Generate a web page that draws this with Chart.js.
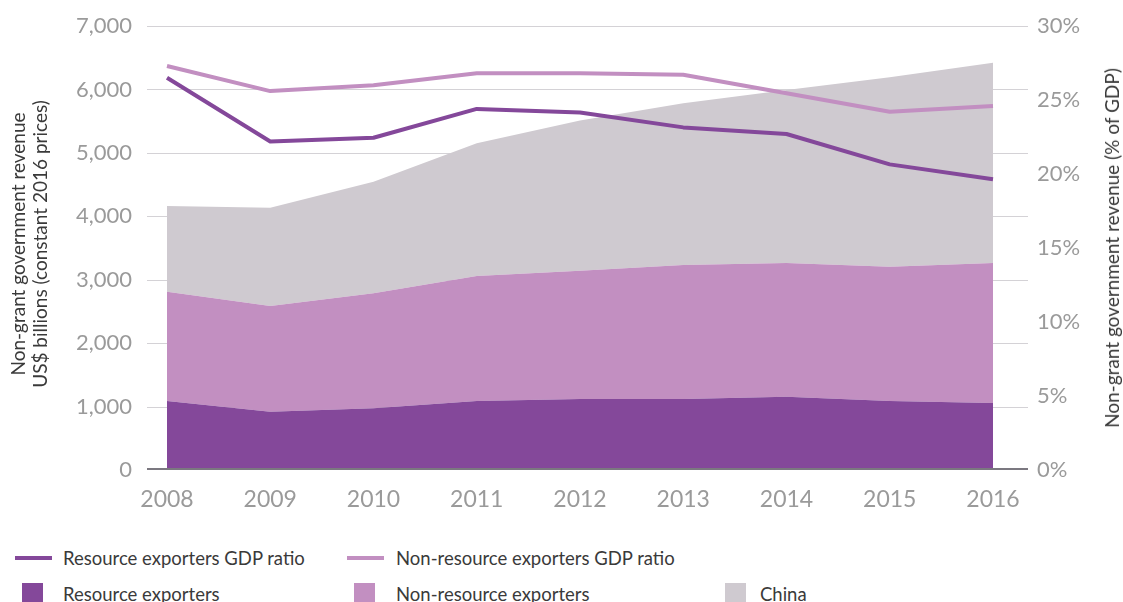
<!DOCTYPE html>
<html>
<head>
<meta charset="utf-8">
<script src="https://cdn.jsdelivr.net/npm/chart.js@4.4.1/dist/chart.umd.min.js"></script>
<style>
html,body{margin:0;padding:0;background:#fff;}
body{width:1123px;height:602px;position:relative;overflow:hidden;font-family:Lato,"Open Sans",sans-serif;}
#wrap{position:absolute;left:0;top:0;width:1123px;height:520px;}
.rot{position:absolute;white-space:nowrap;color:#3a3a3a;font-size:19px;line-height:22px;transform:translate(-50%,-50%) rotate(-90deg);}
.lg{position:absolute;white-space:nowrap;color:#3a3a3a;font-size:18.5px;line-height:24px;}
.sw{position:absolute;}
</style>
</head>
<body>
<div id="wrap"><canvas id="c" width="1123" height="520" style="width:1123px;height:520px"></canvas></div>
<div class="rot" id="lt1" style="left:18px;top:244px;"></div>
<div class="rot" id="lt2" style="left:40px;top:244px;"></div>
<div class="rot" id="rt" style="left:1112px;top:248px;"></div>
<div id="legend"></div>
<script>
// ---- data ----
const years = ['2008','2009','2010','2011','2012','2013','2014','2015','2016'];
const resourceExporters    = [1088, 920, 972, 1088, 1120, 1120, 1156, 1088, 1056];
const nonResourceExporters = [1723, 1665, 1813, 1970, 2022, 2112, 2107, 2117, 2207];
const china                = [1351, 1550, 1760, 2092, 2368, 2549, 2728, 2986, 3159];
const resourceGdpRatio     = [26.5, 22.2, 22.45, 24.4, 24.15, 23.15, 22.7, 20.65, 19.65];
const nonResourceGdpRatio  = [27.3, 25.6, 26.0, 26.8, 26.8, 26.7, 25.45, 24.2, 24.6];
const leftTickLabels  = ['0','1,000','2,000','3,000','4,000','5,000','6,000','7,000'];
const rightTickLabels = ['0%','5%','10%','15%','20%','25%','30%'];
const leftTitle  = ['Non-grant government revenue', 'US$ billions (constant 2016 prices)'];
const rightTitle = 'Non-grant government revenue (% of GDP)';
const seriesNames = ['Resource exporters GDP ratio','Non-resource exporters GDP ratio','Resource exporters','Non-resource exporters','China'];

// ---- styles ----
const DARK = '#84489a', LIGHT = '#c28fc1', GREY = '#cfcad0';
const TICK = '#9a9a9a';

document.getElementById('lt1').textContent = leftTitle[0];
document.getElementById('lt2').textContent = leftTitle[1];
document.getElementById('rt').textContent = rightTitle;

const legendItems = [
  {name: seriesNames[0], kind:'line', color: DARK,  sx:15,  tx:63,  cy:558},
  {name: seriesNames[1], kind:'line', color: LIGHT, sx:347, tx:396, cy:558},
  {name: seriesNames[2], kind:'box',  color: DARK,  sx:22,  tx:63,  cy:594},
  {name: seriesNames[3], kind:'box',  color: LIGHT, sx:354, tx:396, cy:594},
  {name: seriesNames[4], kind:'box',  color: GREY,  sx:725, tx:760, cy:594}
];
const lg = document.getElementById('legend');
legendItems.forEach(it => {
  const s = document.createElement('div');
  s.className = 'sw';
  s.style.background = it.color;
  if (it.kind === 'line') {
    s.style.left = it.sx + 'px'; s.style.width = '37px';
    s.style.top = (it.cy - 2) + 'px'; s.style.height = '4px';
  } else {
    s.style.left = it.sx + 'px'; s.style.width = '21px';
    s.style.top = (it.cy - 11) + 'px'; s.style.height = '21px';
  }
  lg.appendChild(s);
  const t = document.createElement('div');
  t.className = 'lg';
  t.textContent = it.name;
  t.style.left = it.tx + 'px';
  t.style.top = (it.cy - 12) + 'px';
  lg.appendChild(t);
});

const gridPlugin = {
  id: 'gridExt',
  beforeDatasetsDraw(chart) {
    const {ctx, chartArea, scales} = chart;
    const y = scales.y;
    ctx.save();
    ctx.strokeStyle = '#d4d2d6';
    ctx.lineWidth = 1.2;
    y.ticks.forEach(t => {
      if (t.value === 0) return;
      const py = Math.round(y.getPixelForValue(t.value)) + 0.5;
      ctx.beginPath();
      ctx.moveTo(chartArea.left - 20, py);
      ctx.lineTo(chartArea.right + 35, py);
      ctx.stroke();
    });
    ctx.restore();
  },
  afterDatasetsDraw(chart) {
    const {ctx, chartArea, scales} = chart;
    const py = scales.y.getPixelForValue(0);
    ctx.save();
    ctx.strokeStyle = '#7b7880';
    ctx.lineWidth = 2;
    ctx.beginPath();
    ctx.moveTo(chartArea.left - 20, py - 1);
    ctx.lineTo(chartArea.right + 35, py - 1);
    ctx.stroke();
    ctx.restore();
  }
};

Chart.defaults.font.family = 'Lato, "Open Sans", sans-serif';

new Chart(document.getElementById('c'), {
  type: 'line',
  data: {
    labels: years,
    datasets: [
      {label: seriesNames[0], data: resourceGdpRatio, yAxisID: 'y1', borderColor: DARK, borderWidth: 4, pointRadius: 0, fill: false, order: 0, borderJoinStyle: 'round'},
      {label: seriesNames[1], data: nonResourceGdpRatio, yAxisID: 'y1', borderColor: LIGHT, borderWidth: 4, pointRadius: 0, fill: false, order: 0, borderJoinStyle: 'round'},
      {label: seriesNames[2], data: resourceExporters, yAxisID: 'y', stack: 'rev', backgroundColor: DARK, borderColor: DARK, borderWidth: 0, pointRadius: 0, fill: 'origin', order: 1},
      {label: seriesNames[3], data: nonResourceExporters, yAxisID: 'y', stack: 'rev', backgroundColor: LIGHT, borderColor: LIGHT, borderWidth: 0, pointRadius: 0, fill: '-1', order: 1},
      {label: seriesNames[4], data: china, yAxisID: 'y', stack: 'rev', backgroundColor: GREY, borderColor: GREY, borderWidth: 0, pointRadius: 0, fill: '-1', order: 1}
    ]
  },
  options: {
    responsive: false,
    animation: false,
    devicePixelRatio: 1,
    layout: {padding: {top: 26, left: 0, right: 0, bottom: 0}},
    plugins: {legend: {display: false}, tooltip: {enabled: false}},
    elements: {line: {tension: 0}},
    scales: {
      x: {
        offset: false,
        grid: {display: false, drawTicks: true, tickLength: 16},
        border: {display: false},
        ticks: {color: TICK, font: {size: 23}, padding: 0, maxRotation: 0, autoSkip: false},
        afterFit(s) { s.height = 50; }
      },
      y: {
        position: 'left',
        stacked: true,
        min: 0, max: 7000,
        grid: {display: false, drawTicks: true, tickLength: 35},
        border: {display: false},
        ticks: {stepSize: 1000, color: TICK, font: {size: 22}, padding: 0,
                callback: (v, i) => leftTickLabels[i]},
        afterFit(s) { s.width = 167; }
      },
      y1: {
        position: 'right',
        stacked: false,
        min: 0, max: 30,
        grid: {display: false, drawTicks: true, tickLength: 44},
        border: {display: false},
        ticks: {stepSize: 5, color: TICK, font: {size: 22}, padding: 0,
                callback: (v, i) => rightTickLabels[i]},
        afterFit(s) { s.width = 130; }
      }
    }
  },
  plugins: [gridPlugin]
});
</script>
</body>
</html>
